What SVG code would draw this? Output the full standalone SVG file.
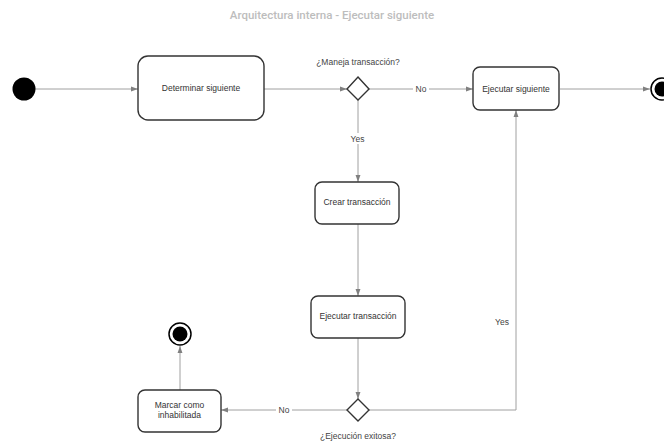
<svg xmlns="http://www.w3.org/2000/svg" width="664" height="446" viewBox="0 0 664 446">
  <style>
    .title { font-family: Roboto, "Liberation Sans", sans-serif; font-size: 11.5px; font-weight: 500; fill: #bdbdbd; text-anchor: middle; }
    .box { fill: #ffffff; stroke: #333333; stroke-width: 1.4; }
    .txt { font-family: "Liberation Sans", Arial, sans-serif; font-size: 8.5px; fill: #333333; text-anchor: middle; dominant-baseline: central; }
    .lbl { font-family: "Liberation Sans", Arial, sans-serif; font-size: 8.5px; fill: #444444; text-anchor: middle; dominant-baseline: central; }
    .lblbg { fill: #ffffff; }
    .edge { fill: none; stroke: #a0a0a0; stroke-width: 1; marker-end: url(#arrow); }
    .dia { fill: #ffffff; stroke: #333333; stroke-width: 1.4; }
  </style>
  <defs>
    <marker id="arrow" viewBox="0 0 8 8" refX="8" refY="4" markerWidth="7" markerHeight="7" markerUnits="userSpaceOnUse" orient="auto">
      <path d="M0,1.2 L8,4 L0,6.8 z" fill="#808080"/>
    </marker>
  </defs>

  <rect width="664" height="446" fill="#ffffff"/>
  <text class="title" x="332" y="19">Arquitectura interna - Ejecutar siguiente</text>

  <!-- connectors -->
  <g id="connectors">
    <path class="edge" d="M35,89 L138,89"/>
    <path class="edge" d="M264,89 L347,89"/>
    <path class="edge" d="M369,89 L473,89"/>
    <path class="edge" d="M560,89 L650,89"/>
    <path class="edge" d="M358,100 L358,182"/>
    <path class="edge" d="M358,224 L358,296"/>
    <path class="edge" d="M358,338 L358,399"/>
    <path class="edge" d="M347,410 L221,410"/>
    <path class="edge" d="M369,410 L516,410 L516,110"/>
    <path class="edge" d="M180,390 L180,346"/>

    <rect class="lblbg" x="413" y="83" width="16" height="11"/>
    <text class="lbl" x="421" y="88.5">No</text>
    <rect class="lblbg" x="348" y="133" width="19" height="11"/>
    <text class="lbl" x="357.5" y="138.5">Yes</text>
    <rect class="lblbg" x="276" y="404" width="16" height="11"/>
    <text class="lbl" x="284" y="409.5">No</text>
    <text class="lbl" x="502" y="322">Yes</text>
  </g>

  <g id="start">
    <circle cx="24" cy="89" r="11.5" fill="#000000"/>
  </g>

  <g id="determinar-siguiente">
    <rect class="box" x="138" y="56" width="126" height="64" rx="10"/>
    <text class="txt" x="201" y="88">Determinar siguiente</text>
  </g>

  <g id="maneja-transaccion">
    <path class="dia" d="M358,77 L369,89 L358,100 L347,89 z"/>
    <text class="lbl" x="358" y="62">¿Maneja transacción?</text>
  </g>

  <g id="ejecutar-siguiente">
    <rect class="box" x="473" y="67" width="86" height="43" rx="7"/>
    <text class="txt" x="516" y="88.5">Ejecutar siguiente</text>
  </g>

  <g id="end-main">
    <circle cx="662" cy="89" r="11" fill="#ffffff" stroke="#000000" stroke-width="1.5"/>
    <circle cx="662" cy="89" r="7.5" fill="#000000"/>
  </g>

  <g id="crear-transaccion">
    <rect class="box" x="315" y="182" width="84" height="42" rx="7"/>
    <text class="txt" x="357" y="202">Crear transacción</text>
  </g>

  <g id="ejecutar-transaccion">
    <rect class="box" x="311" y="296" width="94" height="42" rx="7"/>
    <text class="txt" x="358" y="316">Ejecutar transacción</text>
  </g>

  <g id="ejecucion-exitosa">
    <path class="dia" d="M358,399 L369,410 L358,421 L347,410 z"/>
    <text class="lbl" x="358" y="436">¿Ejecución exitosa?</text>
  </g>

  <g id="marcar-inhabilitada">
    <rect class="box" x="138" y="390" width="83" height="42" rx="7"/>
    <text class="txt" x="179.5" y="405">Marcar como</text>
    <text class="txt" x="179.5" y="415">inhabilitada</text>
  </g>

  <g id="end-disabled">
    <circle cx="180" cy="334" r="11" fill="#ffffff" stroke="#000000" stroke-width="1.5"/>
    <circle cx="180" cy="334" r="7.5" fill="#000000"/>
  </g>
</svg>
